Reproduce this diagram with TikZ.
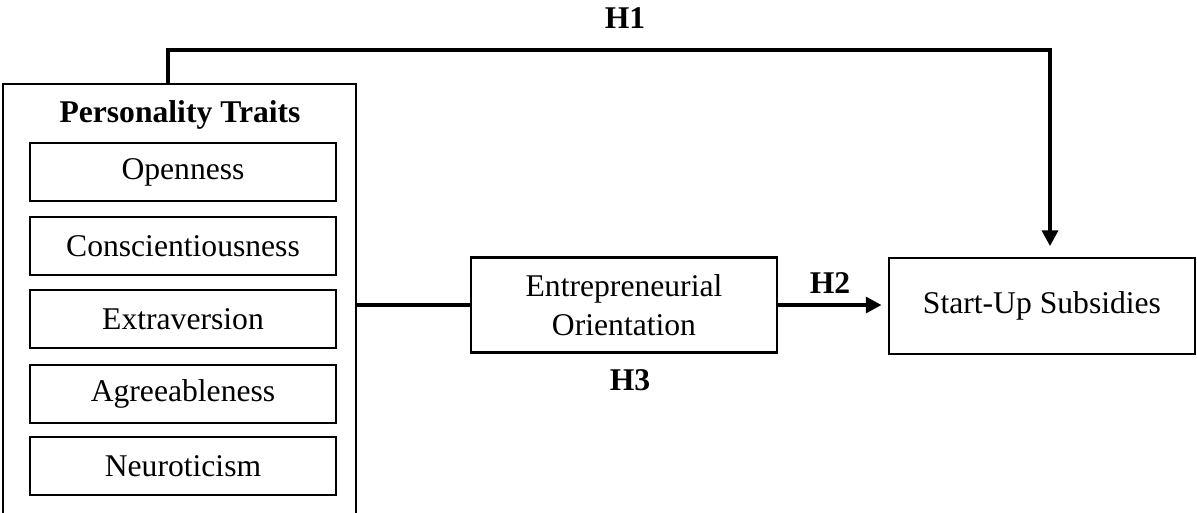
\documentclass[tikz,border=0pt]{standalone}
\usepackage{fontspec}
\setmainfont{Liberation Serif}
\usetikzlibrary{arrows.meta}
\begin{document}
\begin{tikzpicture}[x=0.02cm,y=-0.02cm,
  txt/.style={font=\fontsize{18}{22}\selectfont},
  lbl/.style={font=\fontsize{18}{22}\selectfont\bfseries},
  trait/.style={draw,line width=1.5pt,minimum width=6.12cm,minimum height=1.16cm,inner sep=0pt,txt},
  bigbox/.style={draw,line width=1.5pt,minimum width=6.12cm,inner sep=0pt,txt,align=center},
  conn/.style={line width=2.5pt},
  arr/.style={conn,-{Triangle[length=9pt,width=9pt]}}]
\useasboundingbox (0,0) rectangle (1197,512);
\node[draw,line width=1.5pt,minimum width=7.06cm,minimum height=8.64cm,inner sep=0pt] (pt) at (179.5,300) {};
\node[lbl] (ptt) at (180,115) {Personality Traits};
\node[trait] (o) at (183,172) {Openness};
\node[trait] (c) at (183,246) {Conscientiousness};
\node[trait] (e) at (183,319) {Extraversion};
\node[trait] (a) at (183,394) {Agreeableness};
\node[trait] (n) at (183,466) {Neuroticism};
\node[bigbox,minimum height=1.9cm] (eo) at (624,305) {Entrepreneurial\\Orientation};
\node[bigbox,minimum height=1.92cm] (su) at (1042,306) {Start-Up Subsidies};
\coordinate (h1a) at (168,50);
\coordinate (h1b) at (1050,50);
\draw[conn] (pt.east |- eo.west) -- (eo.west);
\draw[arr,shorten >=3.5pt] (eo.east) -- (eo.east -| su.west);
\draw[arr,shorten >=6pt] (pt.north -| h1a) -- (h1a) -- (h1b) -- (h1b |- su.north);
\node[lbl] (h1) at (625,18) {H1};
\node[lbl] (h2) at (830,283) {H2};
\node[lbl] (h3) at (630,380) {H3};
\end{tikzpicture}
\end{document}
